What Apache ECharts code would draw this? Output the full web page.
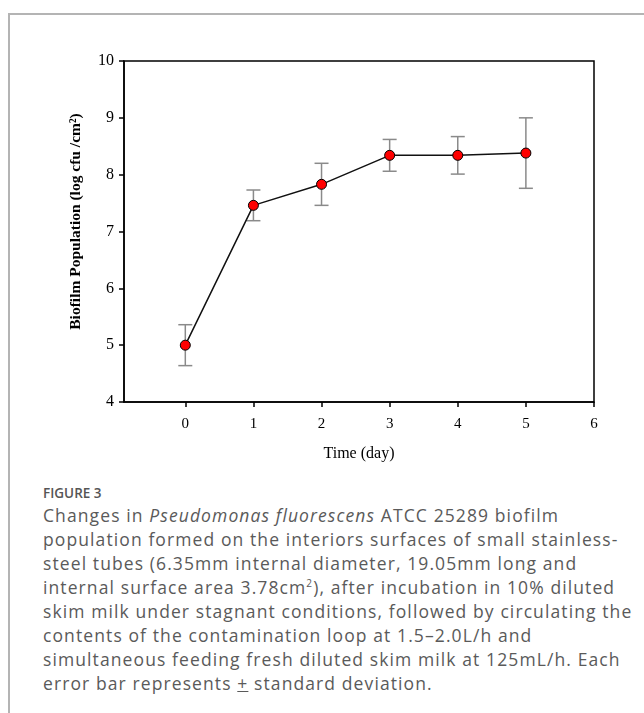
<!DOCTYPE html>
<html>
<head>
<meta charset="utf-8">
<title>Figure 3</title>
<script src="https://cdn.jsdelivr.net/npm/echarts@6/dist/echarts.min.js"></script>
<style>
  html,
  body {
    margin: 0;
    padding: 0;
    background: #fff;
    width: 644px;
    height: 713px;
    overflow: hidden;
  }
  .frame {
    position: absolute;
    left: 8px;
    top: 13px;
    width: 700px;
    height: 800px;
    border-top: 2px solid #b4b4b4;
    border-left: 2px solid #b4b4b4;
  }
  #main {
    position: absolute;
    left: 0;
    top: 0;
    width: 644px;
    height: 470px;
  }
  .fig-label {
    position: absolute;
    left: 43px;
    top: 484px;
    font-family: "Open Sans", sans-serif;
    font-weight: 600;
    font-size: 13.5px;
    line-height: 18px;
    color: #555;
  }
  .fig-caption {
    position: absolute;
    left: 43px;
    top: 503px;
    font-family: "Open Sans", sans-serif;
    font-size: 17.5px;
    letter-spacing: 1.1px;
    line-height: 24px;
    color: #5a5a5a;
    white-space: nowrap;
  }
  .fig-caption sup {
    font-size: 10px;
    line-height: 0;
  }
</style>
</head>
<body>
<div class="frame"></div>
<div id="main"></div>
<div class="fig-label">FIGURE 3</div>
<div class="fig-caption">
  Changes in <i>Pseudomonas fluorescens</i> ATCC 25289 biofilm<br>
  population formed on the interiors surfaces of small stainless-<br>
  steel tubes (6.35mm internal diameter, 19.05mm long and<br>
  internal surface area 3.78cm<sup>2</sup>), after incubation in 10% diluted<br>
  skim milk under stagnant conditions, followed by circulating the<br>
  contents of the contamination loop at 1.5–2.0L/h and<br>
  simultaneous feeding fresh diluted skim milk at 125mL/h. Each<br>
  error bar represents <u>+</u> standard deviation.
</div>
<script>
// 数据
const days = [0, 1, 2, 3, 4, 5];
const meanLog = [5.0, 7.46, 7.83, 8.34, 8.34, 8.38]; // log cfu/cm2
const sdLog = [0.36, 0.27, 0.37, 0.28, 0.33, 0.62];
const xTicks = [0, 1, 2, 3, 4, 5, 6];

const serif = '"Liberation Serif", "Times New Roman", serif';

const lineData = days.map((d, i) => [d, meanLog[i]]);
const errData = days.map((d, i) => [d, meanLog[i] - sdLog[i], meanLog[i] + sdLog[i]]);

const chart = echarts.init(document.getElementById("main"), null, { renderer: "canvas" });

const option = {
  animation: false,
  grid: {
    left: 124,
    top: 61,
    width: 470,
    height: 341,
    show: true,
    borderColor: "#000",
    borderWidth: 1.5,
  },
  xAxis: {
    type: "value",
    min: -0.9,
    max: 6,
    name: "Time (day)",
    nameLocation: "middle",
    nameGap: 44,
    nameTextStyle: { fontFamily: serif, fontSize: 16, color: "#000" },
    axisLine: { show: true, onZero: false, lineStyle: { color: "#000", width: 1.5 } },
    axisTick: { show: true, inside: false, length: 5, customValues: xTicks, lineStyle: { color: "#000", width: 1.5 } },
    axisLabel: { customValues: xTicks, margin: 15, fontFamily: serif, fontSize: 15, color: "#000" },
    splitLine: { show: false },
  },
  yAxis: {
    type: "value",
    min: 4,
    max: 10,
    interval: 1,
    name: "Biofilm Population (log cfu /cm²)",
    nameLocation: "middle",
    nameGap: 40,
    nameTextStyle: {
      fontFamily: serif,
      fontSize: 15.5,
      fontWeight: "bold",
      color: "#000",
      padding: [0, 0, 0, 20], // nudge the title up a bit
    },
    axisLine: { show: true, onZero: false, lineStyle: { color: "#000", width: 1.5 } },
    axisTick: { show: true, inside: false, length: 5, lineStyle: { color: "#000", width: 1.5 } },
    axisLabel: { margin: 10, fontFamily: serif, fontSize: 16, color: "#000" },
    splitLine: { show: false },
  },
  series: [
    {
      // error bars (± sd)
      type: "custom",
      data: errData,
      z: 1,
      renderItem: (params, api) => {
        const x = api.value(0);
        const lo = api.coord([x, api.value(1)]);
        const hi = api.coord([x, api.value(2)]);
        const cap = 7;
        const style = { stroke: "#8a8a8a", lineWidth: 1.5 };
        return {
          type: "group",
          children: [
            { type: "line", shape: { x1: lo[0], y1: lo[1], x2: hi[0], y2: hi[1] }, style: style },
            { type: "line", shape: { x1: hi[0] - cap, y1: hi[1], x2: hi[0] + cap, y2: hi[1] }, style: style },
            { type: "line", shape: { x1: lo[0] - cap, y1: lo[1], x2: lo[0] + cap, y2: lo[1] }, style: style },
          ],
        };
      },
    },
    {
      type: "line",
      data: lineData,
      z: 3,
      symbol: "circle",
      symbolSize: 10,
      lineStyle: { color: "#111", width: 1.5 },
      itemStyle: { color: "#ff0000", borderColor: "#000", borderWidth: 1 },
    },
  ],
};

chart.setOption(option);
</script>
</body>
</html>
